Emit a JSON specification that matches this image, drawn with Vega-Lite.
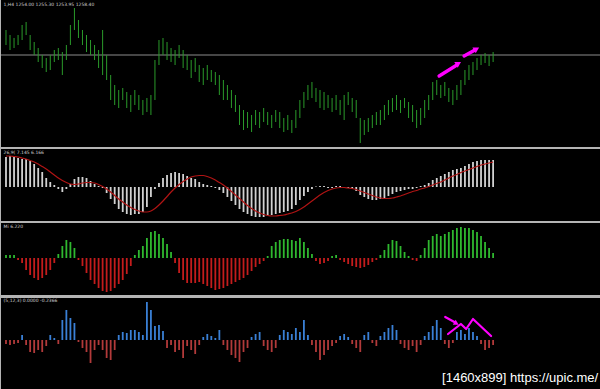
{
  "$schema": "https://vega.github.io/schema/vega-lite/v6.json",
  "background": "#b4b4b4",
  "padding": 0,
  "spacing": 2,
  "config": {"view": {"fill": "#000000", "stroke": null}, "text": {"font": "DejaVu Sans"}},
  "datasets": {
    "bars": [
      {"i":0,"high":1259.0,"low":1256.0,"macd":6.0,"signal":6.2,"hist":0.6,"osc":-0.08},
      {"i":1,"high":1258.0,"low":1255.0,"macd":6.2,"signal":6.2,"hist":0.6,"osc":-0.10},
      {"i":2,"high":1257.4,"low":1255.4,"macd":6.0,"signal":6.1,"hist":0.6,"osc":-0.08},
      {"i":3,"high":1258.0,"low":1256.0,"macd":5.8,"signal":6.0,"hist":-0.4,"osc":-0.06},
      {"i":4,"high":1260.0,"low":1257.0,"macd":5.6,"signal":5.8,"hist":-1.0,"osc":0.10},
      {"i":5,"high":1260.6,"low":1258.0,"macd":5.6,"signal":5.6,"hist":-2.4,"osc":-0.10},
      {"i":6,"high":1258.0,"low":1255.0,"macd":5.2,"signal":5.3,"hist":-3.4,"osc":-0.24},
      {"i":7,"high":1256.6,"low":1254.0,"macd":4.6,"signal":5.0,"hist":-4.0,"osc":-0.26},
      {"i":8,"high":1255.4,"low":1252.6,"macd":3.8,"signal":4.6,"hist":-4.4,"osc":-0.20},
      {"i":9,"high":1254.0,"low":1251.4,"macd":3.0,"signal":4.1,"hist":-4.0,"osc":-0.24},
      {"i":10,"high":1253.4,"low":1250.6,"macd":1.8,"signal":3.6,"hist":-3.4,"osc":-0.12},
      {"i":11,"high":1254.0,"low":1251.0,"macd":1.0,"signal":3.0,"hist":-2.4,"osc":0.10},
      {"i":12,"high":1255.0,"low":1252.6,"macd":0.4,"signal":2.4,"hist":-1.0,"osc":0.04},
      {"i":13,"high":1255.4,"low":1253.0,"macd":-0.4,"signal":1.8,"hist":0.8,"osc":-0.08},
      {"i":14,"high":1254.6,"low":1250.0,"macd":-1.0,"signal":1.3,"hist":2.4,"osc":0.40},
      {"i":15,"high":1256.0,"low":1253.0,"macd":-0.4,"signal":0.9,"hist":3.6,"osc":0.60},
      {"i":16,"high":1260.0,"low":1256.0,"macd":0.6,"signal":0.6,"hist":3.2,"osc":0.44},
      {"i":17,"high":1263.4,"low":1259.0,"macd":1.6,"signal":0.5,"hist":2.0,"osc":0.34},
      {"i":18,"high":1261.0,"low":1257.4,"macd":2.0,"signal":0.6,"hist":-0.4,"osc":-0.04},
      {"i":19,"high":1259.0,"low":1256.0,"macd":2.0,"signal":0.8,"hist":-1.6,"osc":-0.16},
      {"i":20,"high":1258.0,"low":1254.6,"macd":1.8,"signal":0.9,"hist":-3.0,"osc":-0.24},
      {"i":21,"high":1257.0,"low":1254.0,"macd":1.2,"signal":0.9,"hist":-4.4,"osc":-0.46},
      {"i":22,"high":1256.0,"low":1253.0,"macd":0.6,"signal":0.8,"hist":-5.2,"osc":-0.20},
      {"i":23,"high":1255.0,"low":1251.4,"macd":0.2,"signal":0.5,"hist":-6.0,"osc":-0.10},
      {"i":24,"high":1259.0,"low":1250.0,"macd":-0.2,"signal":0.1,"hist":-6.6,"osc":-0.20},
      {"i":25,"high":1254.0,"low":1249.0,"macd":-1.2,"signal":-0.4,"hist":-6.8,"osc":-0.36},
      {"i":26,"high":1250.0,"low":1245.0,"macd":-2.4,"signal":-1.0,"hist":-6.6,"osc":-0.40},
      {"i":27,"high":1248.0,"low":1244.0,"macd":-3.4,"signal":-1.7,"hist":-6.0,"osc":-0.20},
      {"i":28,"high":1247.0,"low":1243.4,"macd":-4.4,"signal":-2.4,"hist":-5.2,"osc":0.10},
      {"i":29,"high":1247.4,"low":1245.0,"macd":-5.0,"signal":-3.0,"hist":-4.4,"osc":0.16},
      {"i":30,"high":1246.6,"low":1243.4,"macd":-5.4,"signal":-3.6,"hist":-3.2,"osc":0.14},
      {"i":31,"high":1246.0,"low":1242.6,"macd":-5.6,"signal":-4.1,"hist":-1.6,"osc":0.20},
      {"i":32,"high":1247.0,"low":1244.0,"macd":-5.4,"signal":-4.5,"hist":0.6,"osc":0.20},
      {"i":33,"high":1246.0,"low":1243.0,"macd":-5.4,"signal":-4.8,"hist":1.6,"osc":0.16},
      {"i":34,"high":1245.0,"low":1242.0,"macd":-5.0,"signal":-5.0,"hist":2.4,"osc":0.10},
      {"i":35,"high":1245.4,"low":1242.6,"macd":-4.0,"signal":-5.0,"hist":4.0,"osc":0.76},
      {"i":36,"high":1246.0,"low":1242.0,"macd":-2.0,"signal":-4.8,"hist":5.2,"osc":0.60},
      {"i":37,"high":1253.0,"low":1245.0,"macd":-0.4,"signal":-4.3,"hist":5.4,"osc":0.28},
      {"i":38,"high":1257.0,"low":1252.0,"macd":0.8,"signal":-3.6,"hist":4.8,"osc":0.30},
      {"i":39,"high":1257.4,"low":1254.0,"macd":1.8,"signal":-2.8,"hist":4.0,"osc":0.18},
      {"i":40,"high":1256.6,"low":1253.0,"macd":2.4,"signal":-1.9,"hist":2.8,"osc":-0.16},
      {"i":41,"high":1255.4,"low":1252.6,"macd":2.8,"signal":-1.0,"hist":1.2,"osc":-0.10},
      {"i":42,"high":1255.0,"low":1252.0,"macd":3.0,"signal":-0.2,"hist":-1.0,"osc":-0.24},
      {"i":43,"high":1256.0,"low":1253.4,"macd":2.8,"signal":0.5,"hist":-3.0,"osc":-0.20},
      {"i":44,"high":1255.0,"low":1251.4,"macd":2.6,"signal":1.1,"hist":-4.4,"osc":-0.36},
      {"i":45,"high":1254.0,"low":1251.0,"macd":2.2,"signal":1.6,"hist":-5.0,"osc":-0.12},
      {"i":46,"high":1253.0,"low":1249.4,"macd":1.8,"signal":2.0,"hist":-5.0,"osc":-0.20},
      {"i":47,"high":1253.4,"low":1250.6,"macd":1.6,"signal":2.2,"hist":-5.0,"osc":-0.28},
      {"i":48,"high":1252.0,"low":1248.6,"macd":1.0,"signal":2.3,"hist":-4.8,"osc":-0.10},
      {"i":49,"high":1251.4,"low":1248.0,"macd":0.6,"signal":2.3,"hist":-5.2,"osc":0.06},
      {"i":50,"high":1252.0,"low":1249.0,"macd":0.4,"signal":2.1,"hist":-5.6,"osc":0.12},
      {"i":51,"high":1251.0,"low":1248.6,"macd":0.2,"signal":1.8,"hist":-6.0,"osc":0.08},
      {"i":52,"high":1250.6,"low":1248.0,"macd":-0.2,"signal":1.4,"hist":-6.4,"osc":0.04},
      {"i":53,"high":1250.0,"low":1246.0,"macd":-0.6,"signal":0.9,"hist":-6.2,"osc":0.20},
      {"i":54,"high":1249.0,"low":1245.0,"macd":-1.2,"signal":0.4,"hist":-6.0,"osc":-0.10},
      {"i":55,"high":1248.0,"low":1245.0,"macd":-2.0,"signal":-0.2,"hist":-5.6,"osc":-0.20},
      {"i":56,"high":1247.0,"low":1243.4,"macd":-2.8,"signal":-0.9,"hist":-5.2,"osc":-0.30},
      {"i":57,"high":1246.0,"low":1242.6,"macd":-3.6,"signal":-1.6,"hist":-4.8,"osc":-0.36},
      {"i":58,"high":1244.0,"low":1240.0,"macd":-4.4,"signal":-2.3,"hist":-4.4,"osc":-0.44},
      {"i":59,"high":1243.0,"low":1239.0,"macd":-5.0,"signal":-3.0,"hist":-4.0,"osc":-0.24},
      {"i":60,"high":1242.6,"low":1239.4,"macd":-5.4,"signal":-3.7,"hist":-3.4,"osc":-0.16},
      {"i":61,"high":1242.0,"low":1238.6,"macd":-5.8,"signal":-4.3,"hist":-2.6,"osc":0.06},
      {"i":62,"high":1243.0,"low":1240.0,"macd":-6.0,"signal":-4.8,"hist":-1.8,"osc":0.12},
      {"i":63,"high":1242.6,"low":1239.4,"macd":-6.0,"signal":-5.2,"hist":-1.2,"osc":0.16},
      {"i":64,"high":1243.4,"low":1240.6,"macd":-6.0,"signal":-5.5,"hist":-0.6,"osc":-0.12},
      {"i":65,"high":1242.6,"low":1240.0,"macd":-5.8,"signal":-5.7,"hist":0.4,"osc":-0.20},
      {"i":66,"high":1242.0,"low":1239.4,"macd":-5.6,"signal":-5.8,"hist":2.4,"osc":-0.24},
      {"i":67,"high":1243.0,"low":1240.6,"macd":-5.4,"signal":-5.8,"hist":3.2,"osc":-0.16},
      {"i":68,"high":1242.6,"low":1239.4,"macd":-5.2,"signal":-5.7,"hist":3.6,"osc":0.10},
      {"i":69,"high":1241.4,"low":1238.6,"macd":-5.0,"signal":-5.6,"hist":3.8,"osc":0.20},
      {"i":70,"high":1242.0,"low":1239.0,"macd":-4.8,"signal":-5.4,"hist":3.8,"osc":0.16},
      {"i":71,"high":1241.0,"low":1238.4,"macd":-4.4,"signal":-5.2,"hist":3.6,"osc":0.12},
      {"i":72,"high":1243.0,"low":1239.4,"macd":-3.6,"signal":-4.9,"hist":3.4,"osc":0.24},
      {"i":73,"high":1245.0,"low":1241.4,"macd":-2.6,"signal":-4.5,"hist":4.0,"osc":0.16},
      {"i":74,"high":1246.6,"low":1243.4,"macd":-1.8,"signal":-4.0,"hist":3.2,"osc":0.40},
      {"i":75,"high":1248.0,"low":1245.0,"macd":-1.0,"signal":-3.4,"hist":2.0,"osc":0.10},
      {"i":76,"high":1248.6,"low":1245.4,"macd":-0.4,"signal":-2.8,"hist":0.8,"osc":-0.10},
      {"i":77,"high":1247.4,"low":1244.6,"macd":0.1,"signal":-2.2,"hist":-0.6,"osc":-0.24},
      {"i":78,"high":1247.0,"low":1243.4,"macd":0.2,"signal":-1.6,"hist":-1.2,"osc":-0.40},
      {"i":79,"high":1246.6,"low":1243.0,"macd":0.2,"signal":-1.1,"hist":-1.0,"osc":-0.30},
      {"i":80,"high":1246.0,"low":1243.4,"macd":-0.2,"signal":-0.7,"hist":-0.6,"osc":-0.20},
      {"i":81,"high":1245.4,"low":1242.6,"macd":-0.2,"signal":-0.4,"hist":0.4,"osc":-0.12},
      {"i":82,"high":1246.0,"low":1243.0,"macd":0.2,"signal":-0.2,"hist":0.6,"osc":-0.06},
      {"i":83,"high":1245.0,"low":1242.0,"macd":0.2,"signal":-0.1,"hist":-0.4,"osc":0.08},
      {"i":84,"high":1246.0,"low":1241.0,"macd":-0.2,"signal":-0.1,"hist":-0.8,"osc":0.12},
      {"i":85,"high":1246.6,"low":1244.0,"macd":-0.2,"signal":-0.2,"hist":-1.2,"osc":0.06},
      {"i":86,"high":1245.4,"low":1242.6,"macd":-0.4,"signal":-0.3,"hist":-1.6,"osc":-0.08},
      {"i":87,"high":1245.0,"low":1241.4,"macd":-0.8,"signal":-0.5,"hist":-1.8,"osc":-0.16},
      {"i":88,"high":1241.4,"low":1236.4,"macd":-1.6,"signal":-0.8,"hist":-2.0,"osc":-0.24},
      {"i":89,"high":1241.0,"low":1238.0,"macd":-2.0,"signal":-1.1,"hist":-1.8,"osc":0.10},
      {"i":90,"high":1241.4,"low":1238.6,"macd":-2.4,"signal":-1.4,"hist":-1.4,"osc":0.16},
      {"i":91,"high":1242.0,"low":1239.4,"macd":-2.6,"signal":-1.7,"hist":-0.8,"osc":-0.06},
      {"i":92,"high":1242.6,"low":1240.0,"macd":-2.6,"signal":-2.0,"hist":-0.4,"osc":-0.12},
      {"i":93,"high":1243.0,"low":1240.0,"macd":-2.4,"signal":-2.2,"hist":0.6,"osc":0.08},
      {"i":94,"high":1244.0,"low":1241.0,"macd":-2.2,"signal":-2.3,"hist":1.6,"osc":0.16},
      {"i":95,"high":1245.0,"low":1242.0,"macd":-1.8,"signal":-2.3,"hist":2.8,"osc":0.24},
      {"i":96,"high":1245.4,"low":1242.6,"macd":-1.4,"signal":-2.2,"hist":3.6,"osc":0.30},
      {"i":97,"high":1246.0,"low":1243.0,"macd":-1.0,"signal":-2.0,"hist":3.4,"osc":0.20},
      {"i":98,"high":1245.0,"low":1242.4,"macd":-0.8,"signal":-1.8,"hist":2.4,"osc":-0.08},
      {"i":99,"high":1245.4,"low":1243.4,"macd":-0.6,"signal":-1.5,"hist":1.2,"osc":-0.16},
      {"i":100,"high":1244.6,"low":1241.4,"macd":-0.4,"signal":-1.2,"hist":0.4,"osc":-0.20},
      {"i":101,"high":1244.0,"low":1240.6,"macd":-0.4,"signal":-0.9,"hist":-0.4,"osc":-0.12},
      {"i":102,"high":1243.0,"low":1239.4,"macd":-0.2,"signal":-0.7,"hist":-0.6,"osc":-0.24},
      {"i":103,"high":1243.4,"low":1240.0,"macd":0.2,"signal":-0.4,"hist":0.6,"osc":-0.10},
      {"i":104,"high":1245.0,"low":1241.4,"macd":0.4,"signal":-0.2,"hist":2.0,"osc":0.08},
      {"i":105,"high":1246.0,"low":1243.0,"macd":0.8,"signal":0.1,"hist":3.6,"osc":0.16},
      {"i":106,"high":1248.6,"low":1245.0,"macd":1.4,"signal":0.4,"hist":4.4,"osc":0.28},
      {"i":107,"high":1249.0,"low":1246.0,"macd":1.8,"signal":0.7,"hist":4.8,"osc":0.40},
      {"i":108,"high":1248.0,"low":1245.4,"macd":2.2,"signal":1.0,"hist":4.4,"osc":0.24},
      {"i":109,"high":1248.6,"low":1245.8,"macd":2.6,"signal":1.4,"hist":4.8,"osc":-0.08},
      {"i":110,"high":1247.4,"low":1244.6,"macd":3.0,"signal":1.8,"hist":5.2,"osc":-0.16},
      {"i":111,"high":1247.0,"low":1244.0,"macd":3.4,"signal":2.2,"hist":5.6,"osc":-0.06},
      {"i":112,"high":1248.0,"low":1245.0,"macd":3.6,"signal":2.5,"hist":6.0,"osc":0.16},
      {"i":113,"high":1249.0,"low":1246.0,"macd":3.8,"signal":2.9,"hist":6.2,"osc":0.20},
      {"i":114,"high":1251.0,"low":1248.0,"macd":4.2,"signal":3.2,"hist":6.0,"osc":0.12},
      {"i":115,"high":1252.0,"low":1249.0,"macd":4.6,"signal":3.5,"hist":6.0,"osc":0.24},
      {"i":116,"high":1252.6,"low":1250.0,"macd":5.0,"signal":3.8,"hist":5.6,"osc":0.16},
      {"i":117,"high":1253.4,"low":1251.0,"macd":5.2,"signal":4.1,"hist":5.2,"osc":0.08},
      {"i":118,"high":1254.0,"low":1252.0,"macd":5.4,"signal":4.4,"hist":4.4,"osc":-0.08},
      {"i":119,"high":1254.4,"low":1252.4,"macd":5.4,"signal":4.6,"hist":3.2,"osc":-0.20},
      {"i":120,"high":1254.0,"low":1251.8,"macd":5.4,"signal":4.8,"hist":2.0,"osc":-0.16},
      {"i":121,"high":1254.6,"low":1252.6,"macd":5.4,"signal":5.0,"hist":1.0,"osc":-0.10}
    ],
    "priceArrows": [
      {"arrow":"a1","order":0,"i":107.6,"price":1249.8},
      {"arrow":"a1","order":1,"i":112.0,"price":1252.0},
      {"arrow":"a2","order":0,"i":113.8,"price":1253.8},
      {"arrow":"a2","order":1,"i":116.5,"price":1255.0}
    ],
    "priceHeads": [
      {"i":112.4,"price":1252.3,"angle":59},
      {"i":116.9,"price":1255.2,"angle":61}
    ],
    "oscLines": [
      {"line":"z","order":0,"i":109.8,"v":0.12},
      {"line":"z","order":1,"i":113.0,"v":0.32},
      {"line":"z","order":2,"i":114.3,"v":0.22},
      {"line":"z","order":3,"i":116.0,"v":0.42},
      {"line":"z","order":4,"i":120.5,"v":0.08},
      {"line":"a","order":0,"i":109.1,"v":0.46},
      {"line":"a","order":1,"i":111.6,"v":0.35}
    ],
    "oscHeads": [
      {"i":111.9,"v":0.33,"angle":119}
    ]
  },
  "vconcat": [
    {
      "width": 600,
      "height": 147,
      "layer": [
        {
          "data": {"values": [{}]},
          "mark": {"type": "rule", "color": "#8c8c8c", "strokeWidth": 1},
          "encoding": {
            "y": {"datum": 1254, "type": "quantitative", "scale": {"domain": [1235.6, 1265], "nice": false, "zero": false}, "axis": null}
          }
        },
        {
          "data": {"name": "bars"},
          "mark": {"type": "rule", "color": "#2a9a2a", "strokeWidth": 1},
          "encoding": {
            "x": {"field": "i", "type": "quantitative", "scale": {"domain": [-1.24, 147.8], "nice": false, "zero": false}, "axis": null},
            "y": {"field": "low", "type": "quantitative"},
            "y2": {"field": "high"}
          }
        },
        {
          "data": {"name": "priceArrows"},
          "mark": {"type": "line", "color": "#ff00ff", "strokeWidth": 3.5, "strokeCap": "round"},
          "encoding": {
            "x": {"field": "i", "type": "quantitative"},
            "y": {"field": "price", "type": "quantitative"},
            "detail": {"field": "arrow"},
            "order": {"field": "order"}
          }
        },
        {
          "data": {"name": "priceHeads"},
          "mark": {"type": "point", "shape": "triangle-up", "filled": true, "color": "#ff00ff", "opacity": 1, "size": 45},
          "encoding": {
            "x": {"field": "i", "type": "quantitative"},
            "y": {"field": "price", "type": "quantitative"},
            "angle": {"field": "angle", "type": "quantitative", "scale": null}
          }
        },
        {
          "data": {"values": [{}]},
          "mark": {"type": "text", "align": "left", "baseline": "middle", "fontSize": 4.5, "color": "#d0d0d0"},
          "encoding": {
            "x": {"datum": -0.6, "type": "quantitative"},
            "y": {"datum": 1264.0, "type": "quantitative"},
            "text": {"value": "1,H4  1254.00 1255.30 1253.95 1258.40"}
          }
        }
      ]
    },
    {
      "width": 600,
      "height": 72,
      "layer": [
        {
          "data": {"name": "bars"},
          "mark": {"type": "rule", "color": "#d2d2d2", "strokeWidth": 1.8},
          "encoding": {
            "x": {"field": "i", "type": "quantitative", "scale": {"domain": [-1.24, 147.8], "nice": false, "zero": false}, "axis": null},
            "y": {"field": "macd", "type": "quantitative", "scale": {"domain": [-6.8, 7.6], "nice": false, "zero": false}, "axis": null},
            "y2": {"datum": 0}
          }
        },
        {
          "data": {"name": "bars"},
          "mark": {"type": "line", "color": "#b01414", "strokeWidth": 1.2, "interpolate": "monotone"},
          "encoding": {
            "x": {"field": "i", "type": "quantitative"},
            "y": {"field": "signal", "type": "quantitative"}
          }
        },
        {
          "data": {"values": [{}]},
          "mark": {"type": "text", "align": "left", "baseline": "middle", "fontSize": 4.5, "color": "#d0d0d0"},
          "encoding": {
            "x": {"datum": -0.6, "type": "quantitative"},
            "y": {"datum": 6.9, "type": "quantitative"},
            "text": {"value": "26,9( 7.145 6.166"}
          }
        }
      ]
    },
    {
      "width": 600,
      "height": 72,
      "layer": [
        {
          "data": {"name": "bars"},
          "mark": {"type": "rule", "strokeWidth": 1.8},
          "encoding": {
            "x": {"field": "i", "type": "quantitative", "scale": {"domain": [-1.24, 147.8], "nice": false, "zero": false}, "axis": null},
            "y": {"field": "hist", "type": "quantitative", "scale": {"domain": [-7.4, 7.0], "nice": false, "zero": false}, "axis": null},
            "y2": {"datum": 0},
            "color": {"condition": {"test": "datum.hist >= 0", "value": "#2fb82f"}, "value": "#c41c1c"}
          }
        },
        {
          "data": {"values": [{}]},
          "mark": {"type": "text", "align": "left", "baseline": "middle", "fontSize": 4.5, "color": "#d0d0d0"},
          "encoding": {
            "x": {"datum": -0.6, "type": "quantitative"},
            "y": {"datum": 6.3, "type": "quantitative"},
            "text": {"value": "Mi 6.220"}
          }
        }
      ]
    },
    {
      "width": 600,
      "height": 92,
      "layer": [
        {
          "data": {"name": "bars"},
          "mark": {"type": "rule", "strokeWidth": 1.8},
          "encoding": {
            "x": {"field": "i", "type": "quantitative", "scale": {"domain": [-1.24, 147.8], "nice": false, "zero": false}, "axis": null},
            "y": {"field": "osc", "type": "quantitative", "scale": {"domain": [-1.0, 0.84], "nice": false, "zero": false}, "axis": null},
            "y2": {"datum": 0},
            "color": {"condition": {"test": "datum.osc >= 0", "value": "#3a80d6"}, "value": "#b23a3a"}
          }
        },
        {
          "data": {"name": "oscLines"},
          "mark": {"type": "line", "color": "#ff00ff", "strokeWidth": 2.2, "strokeCap": "round", "strokeJoin": "round"},
          "encoding": {
            "x": {"field": "i", "type": "quantitative"},
            "y": {"field": "v", "type": "quantitative"},
            "detail": {"field": "line"},
            "order": {"field": "order"}
          }
        },
        {
          "data": {"name": "oscHeads"},
          "mark": {"type": "point", "shape": "triangle-up", "filled": true, "color": "#ff00ff", "opacity": 1, "size": 35},
          "encoding": {
            "x": {"field": "i", "type": "quantitative"},
            "y": {"field": "v", "type": "quantitative"},
            "angle": {"field": "angle", "type": "quantitative", "scale": null}
          }
        },
        {
          "data": {"values": [{}]},
          "mark": {"type": "text", "align": "left", "baseline": "middle", "fontSize": 4.5, "color": "#d0d0d0"},
          "encoding": {
            "x": {"datum": -0.6, "type": "quantitative"},
            "y": {"datum": 0.78, "type": "quantitative"},
            "text": {"value": "(5,12,3) 0.0000 -0.2366"}
          }
        },
        {
          "data": {"values": [{}]},
          "mark": {"type": "text", "align": "right", "baseline": "middle", "fontSize": 13, "font": "Liberation Sans", "color": "#ffffff"},
          "encoding": {
            "x": {"datum": 147.1, "type": "quantitative"},
            "y": {"datum": -0.76, "type": "quantitative"},
            "text": {"value": "[1460x899] https://upic.me/"}
          }
        }
      ]
    }
  ]
}
